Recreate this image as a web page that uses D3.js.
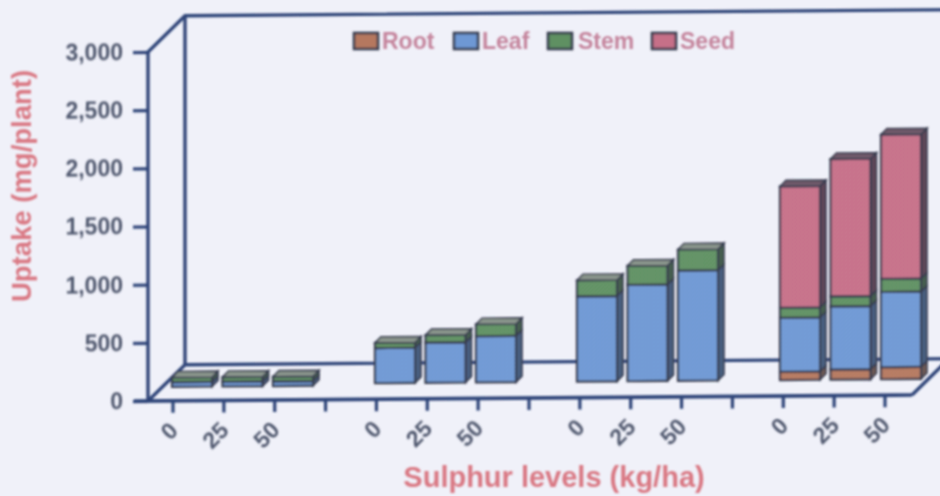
<!DOCTYPE html>
<html><head><meta charset="utf-8">
<script src="https://cdn.jsdelivr.net/npm/d3@7"></script>
<style>html,body{margin:0;padding:0;background:#f0f1f9;overflow:hidden}</style>
</head><body><svg id="c" width="940" height="496"></svg>
<script>
const groups=[0,1,2,3];
const levels=["0","25","50"];
const stackKeys=["Root","Leaf","Stem","Seed"];
const rootVals=[0,0,0, 0,0,0, 0,0,0, 70,86,103];
const leafVals=[40,40,40, 302,345,397, 733,828,948, 465,543,647];
const stemVals=[40,40,40, 45,65,103, 138,164,181, 86,86,112];
const seedVals=[0,0,0, 0,0,0, 0,0,0, 1043,1181,1241];
const yTicks=[0,500,1000,1500,2000,2500,3000];
const legendKeys=["Root","Leaf","Stem","Seed"];
const colors={Root:"#b5785f",Leaf:"#6e98d4",Stem:"#5f9062",Seed:"#c66f88"};
const sideColors={Root:"#6e5a55",Leaf:"#4a5f80",Stem:"#47604f",Seed:"#5f4658"};
const topColors={Root:"#8f8078",Leaf:"#7f8fa5",Stem:"#8a958c",Seed:"#6f5a6a"};
const ink="#2e4478", barInk="#383d50", textGrey="#50586e", textRed="#d97883";

const svg=d3.select("#c");
const defs=svg.append("defs");
stackKeys.forEach(k=>{
  const p=defs.append("pattern").attr("id","h"+k).attr("width",4).attr("height",4).attr("patternUnits","userSpaceOnUse");
  p.append("rect").attr("width",4).attr("height",4).attr("fill",colors[k]);
  p.append("path").attr("d","M0,4L4,0").attr("stroke","#ffffff").attr("stroke-opacity",.1).attr("stroke-width",1);
});
const blur=defs.append("filter").attr("id","soft").attr("filterUnits","userSpaceOnUse")
 .attr("x",0).attr("y",0).attr("width",940).attr("height",496);
blur.append("feGaussianBlur").attr("stdDeviation",.8);

const root=svg.append("g").attr("filter","url(#soft)");
const plot=root.append("g").attr("transform","translate(148,0) skewY(-0.45) translate(-148,0)");

const y=d3.scaleLinear().domain([0,3000]).range([401,52]);
const depth={dx:37,dy:-36};
const xRight=912;

plot.append("path").attr("fill","none").attr("stroke",ink).attr("stroke-width",3.4)
 .attr("d",`M148,${y(3000)}V${y(0)}M185,${y(3000)+depth.dy}V${y(0)+depth.dy}`);
plot.append("path").attr("fill","none").attr("stroke",ink).attr("stroke-width",3.4)
 .attr("d",`M148,${y(3000)}l${depth.dx},${depth.dy}H960M185,${y(0)+depth.dy}H960M148,${y(0)}l${depth.dx},${depth.dy}M${xRight},${y(0)}l${depth.dx},${depth.dy}`);
plot.append("path").attr("fill","none").attr("stroke",ink).attr("stroke-width",3.6)
 .attr("d",`M134,${y(0)}H${xRight}`);

const yAxis=plot.append("g").attr("transform","translate(148,0)")
 .call(d3.axisLeft(y).tickValues(yTicks).tickSize(15).tickPadding(10).tickFormat(d3.format(",")));
yAxis.select(".domain").remove();
yAxis.selectAll("line").attr("stroke",ink).attr("stroke-width",3.2);
yAxis.selectAll("text").attr("fill",textGrey).attr("font-family","Liberation Sans").attr("font-weight","bold").attr("font-size",23);

const tickIdx=d3.range(15);
const xTick=d3.scaleLinear().domain([0,14]).range([173,885]);
plot.selectAll(".xt").data(tickIdx).join("line").attr("class","xt")
 .attr("x1",d=>xTick(d)).attr("x2",d=>xTick(d)).attr("y1",y(0)).attr("y2",y(0)+12)
 .attr("stroke",ink).attr("stroke-width",3.2);

const barW=40, dX=6, dY=-6;
const barX=d3.scaleLinear().domain([0,2]).range([0,101]);
const groupX=d3.scaleOrdinal().domain(groups).range([172,375,577,780]);
const baseOffset=d3.scaleOrdinal().domain(groups).range([14,16,16,16]);
const order=[];
groups.forEach(g=>levels.forEach((l,i)=>order.push({g,i,idx:g*3+i})));
const hOf=v=>y(0)-y(v);
order.forEach(b=>{
  const vals={Root:rootVals[b.idx],Leaf:leafVals[b.idx],Stem:stemVals[b.idx],Seed:seedVals[b.idx]};
  const X=groupX(b.g)+barX(b.i);
  const base=y(0)-baseOffset(b.g);
  const segs=d3.stack().keys(stackKeys)([vals])
   .map(s=>({key:s.key,v0:s[0][0],v1:s[0][1]})).filter(s=>s.v1>s.v0);
  const g=plot.append("g");
  segs.forEach(s=>{
    const yb=base-hOf(s.v0), yt=base-hOf(s.v1);
    g.append("path").attr("fill",sideColors[s.key]).attr("stroke",barInk).attr("stroke-width",1.6)
     .attr("d",`M${X+barW},${yb}l${dX},${dY}V${yt+dY}l${-dX},${-dY}Z`);
    g.append("rect").attr("x",X).attr("y",yt).attr("width",barW).attr("height",yb-yt)
     .attr("fill",`url(#h${s.key})`).attr("stroke",barInk).attr("stroke-width",2.2);
  });
  const last=segs[segs.length-1];
  const yt=base-hOf(last.v1);
  g.append("path").attr("fill",topColors[last.key]).attr("stroke",barInk).attr("stroke-width",1.6)
   .attr("d",`M${X},${yt}l${dX},${dY}h${barW}l${-dX},${-dY}Z`);
});

const labelIdx=[0,1,2,4,5,6,8,9,10,12,13,14];
plot.selectAll(".xl").data(labelIdx).join("text").attr("class","xl")
 .attr("transform",d=>`translate(${xTick(d)+2},${y(0)+27}) rotate(-45)`)
 .attr("text-anchor","end").attr("dominant-baseline","middle")
 .attr("fill",textGrey).attr("font-family","Liberation Sans").attr("font-weight","bold").attr("font-size",23)
 .text(d=>levels[d%4]);

root.append("text").attr("transform","translate(31,186) rotate(-90)").attr("text-anchor","middle")
 .attr("fill",textRed).attr("font-family","Liberation Sans").attr("font-weight","bold").attr("font-size",27.5)
 .text("Uptake (mg/plant)");
root.append("text").attr("x",554).attr("y",487).attr("text-anchor","middle")
 .attr("fill",textRed).attr("font-family","Liberation Sans").attr("font-weight","bold").attr("font-size",29)
 .text("Sulphur levels (kg/ha)");

const legX=d3.scaleOrdinal().domain(legendKeys).range([354,454,548,652]);
const leg=root.selectAll(".lg").data(legendKeys).join("g").attr("class","lg").attr("transform",k=>`translate(${legX(k)},33)`);
leg.append("rect").attr("width",24).attr("height",16).attr("fill",k=>colors[k]).attr("stroke",barInk).attr("stroke-width",2.6);
leg.append("text").attr("x",k=>k==="Stem"?30:28).attr("y",16).attr("fill","#c4849c").attr("font-family","Liberation Sans").attr("font-weight","bold").attr("font-size",23).text(k=>k);
</script></body></html>
